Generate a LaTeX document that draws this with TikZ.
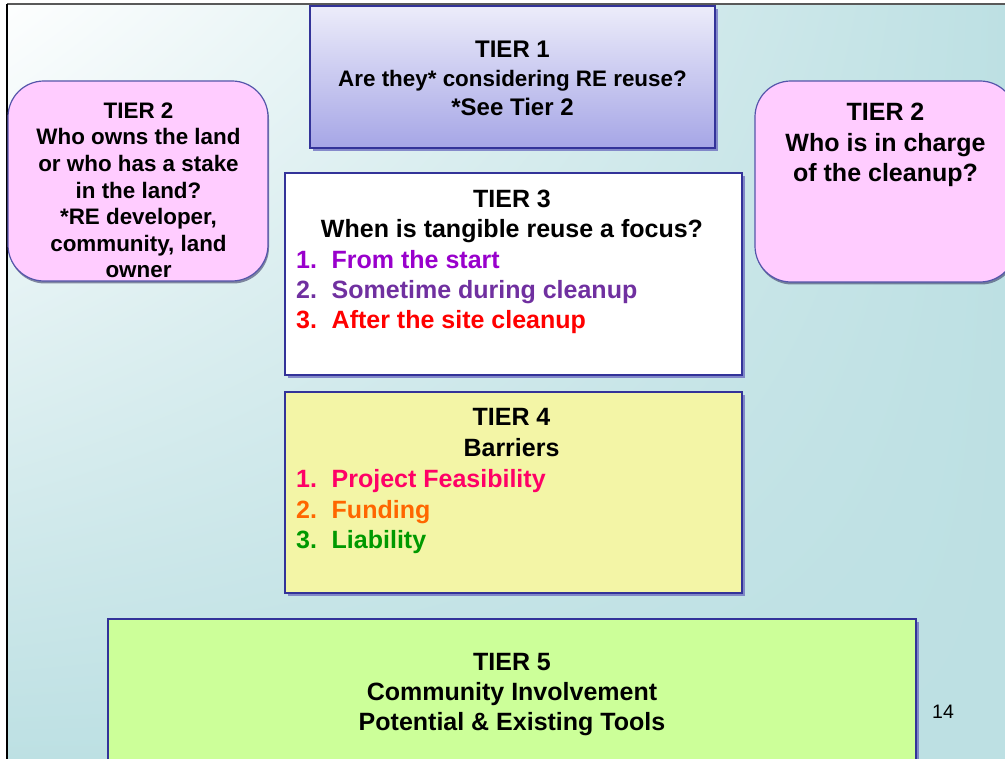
\documentclass[tikz,border=0pt]{standalone}
\usepackage{fontspec}
\setmainfont{Liberation Sans}
\usetikzlibrary{shadows,shadings}

\definecolor{bgcyan}{RGB}{189,224,227}
\definecolor{frameblue}{RGB}{51,51,153}
\definecolor{shadowblue}{RGB}{105,105,190}
\definecolor{tierpink}{RGB}{255,204,255}
\definecolor{pinkedge}{RGB}{85,85,170}
\definecolor{tieryellow}{RGB}{243,245,166}
\definecolor{tiergreen}{RGB}{204,255,153}
\definecolor{lavtop}{RGB}{236,236,250}
\definecolor{lavbot}{RGB}{166,166,230}
\definecolor{itempurple}{RGB}{153,0,204}
\definecolor{itemviolet}{RGB}{112,48,160}
\definecolor{itemred}{RGB}{255,0,0}
\definecolor{itempink}{RGB}{255,0,102}
\definecolor{itemorange}{RGB}{255,102,0}
\definecolor{itemgreen}{RGB}{0,153,0}

\tikzset{
  tierbox/.style={draw=frameblue, line width=2.6pt, inner sep=0pt,
    drop shadow={shadow xshift=3pt, shadow yshift=-3pt, fill=shadowblue, opacity=.75}},
  roundbox/.style={draw=pinkedge, line width=1.2pt, fill=tierpink, inner sep=0pt,
    rounded corners=36pt,
    drop shadow={shadow xshift=1pt, shadow yshift=-2.5pt, fill=black!45!pinkedge, opacity=.55}},
  tiertext/.style={anchor=north, align=center, inner sep=0pt, font=\bfseries},
  itemtext/.style={anchor=north west, align=left, inner sep=0pt, font=\bfseries}
}
\newcommand{\itemnum}[1]{\makebox[35.5pt][l]{#1}}

\begin{document}
\begin{tikzpicture}[x=1pt, y=-1pt]
\useasboundingbox (0,0) rectangle (1005,759);
\clip (0,0) rectangle (1005,759);

% slide background
\fill[white] (0,0) rectangle (1005,759);
\shade[upper left=white!97!bgcyan, upper right=bgcyan, lower left=bgcyan, lower right=bgcyan]
  (7,4) rectangle (1005,759);
\draw[black!65, line width=1.3pt] (7,4) -- (1005,4);
\draw[black, line width=1.5pt] (7,4) -- (7,759);

% Tier 1
\node[tierbox, top color=lavtop, bottom color=lavbot,
      minimum width=405pt, minimum height=142pt] (t1) at (512.5,77) {};
\node[tiertext, font=\bfseries\fontsize{24}{29}\selectfont] (t1txt) at (512.5,40.5)
  {TIER 1\\ {\fontsize{22.4}{29}\selectfont Are they* considering RE reuse?}\\ *See Tier 2};

% Tier 2 (left)
\node[roundbox, minimum width=260pt, minimum height=200pt] (t2l) at (138,181) {};
\node[tiertext, font=\bfseries\fontsize{22.4}{26.6}\selectfont] (t2ltxt) at (138.5,102.5)
  {TIER 2\\ Who owns the land\\ or who has a stake\\ in the land?\\ *RE developer,\\ community, land\\ owner};

% Tier 2 (right)
\node[roundbox, minimum width=261pt, minimum height=201pt] (t2r) at (885.5,181.5) {};
\node[tiertext, font=\bfseries\fontsize{25}{30.5}\selectfont] (t2rtxt) at (885.5,103)
  {TIER 2\\ Who is in charge\\ of the cleanup?};

% Tier 3
\node[tierbox, fill=white, minimum width=457pt, minimum height=202pt] (t3) at (513.5,274) {};
\node[tiertext, font=\bfseries\fontsize{25}{30.2}\selectfont] (t3txt) at (512,190)
  {TIER 3\\ When is tangible reuse a focus?};
\node[itemtext, font=\bfseries\fontsize{25}{30.2}\selectfont] (t3list) at (296,250.2)
  {\textcolor{itempurple}{\itemnum{1.}From the start}\\
   \textcolor{itemviolet}{\itemnum{2.}Sometime during cleanup}\\
   \textcolor{itemred}{\itemnum{3.}After the site cleanup}};

% Tier 4
\node[tierbox, fill=tieryellow, minimum width=457pt, minimum height=201pt] (t4) at (513.5,492.5) {};
\node[tiertext, font=\bfseries\fontsize{25}{30.5}\selectfont] (t4txt) at (511.5,408.3)
  {TIER 4\\ Barriers};
\node[itemtext, font=\bfseries\fontsize{25}{30.5}\selectfont] (t4list) at (296,469.3)
  {\textcolor{itempink}{\itemnum{1.}Project Feasibility}\\
   \textcolor{itemorange}{\itemnum{2.}Funding}\\
   \textcolor{itemgreen}{\itemnum{3.}Liability}};

% Tier 5
\node[tierbox, fill=tiergreen, minimum width=808pt, minimum height=164pt] (t5) at (512,701) {};
\node[tiertext, font=\bfseries\fontsize{25}{30}\selectfont] (t5txt) at (512,653.3)
  {TIER 5\\ Community Involvement\\ Potential \& Existing Tools};

% page number
\node[anchor=base, inner sep=0pt, font=\fontsize{19.5}{22}\selectfont] (pnum) at (943,718.3) {14};
\end{tikzpicture}
\end{document}
